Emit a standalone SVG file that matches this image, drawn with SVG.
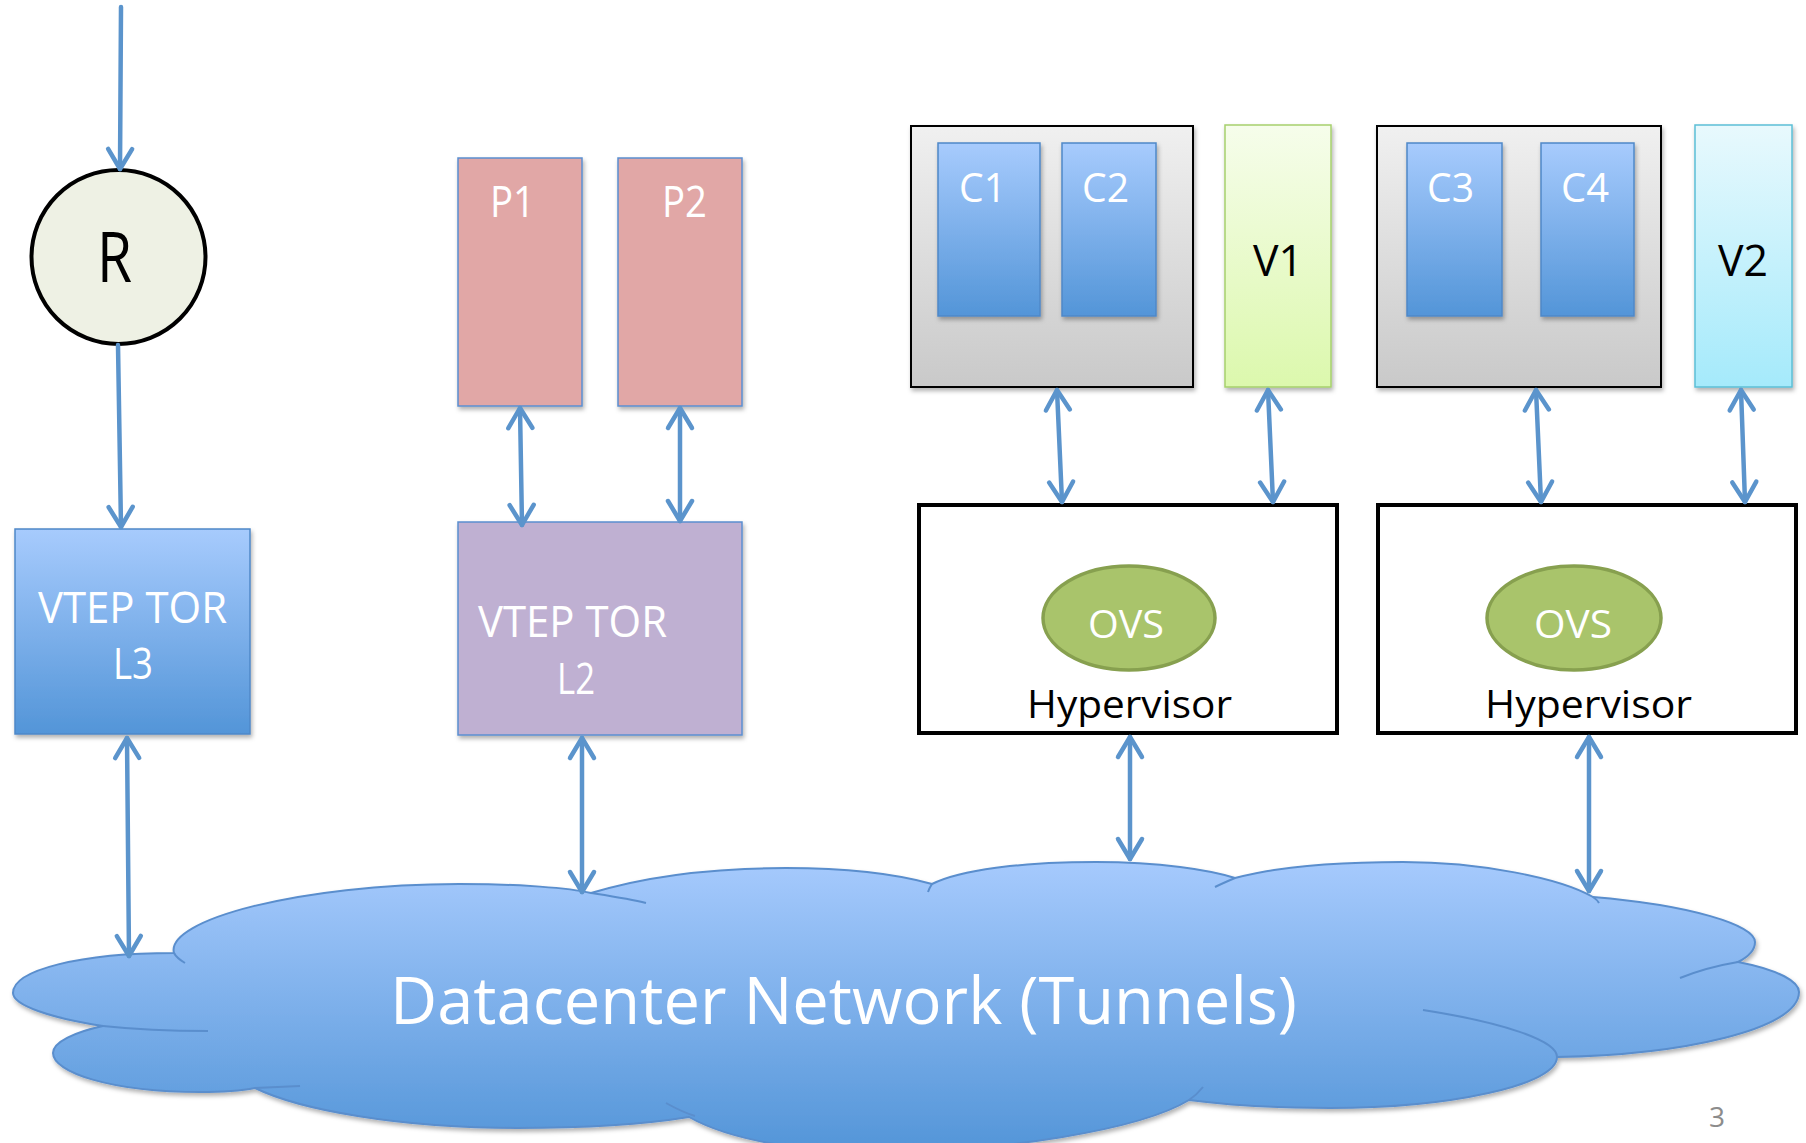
<svg xmlns="http://www.w3.org/2000/svg" width="1806" height="1143" viewBox="0 0 1806 1143">
<style>
text{font-family:"Open Sans","Noto Sans","Liberation Sans",sans-serif;}
.wt{fill:#ffffff;}
.bk{fill:#000000;}
.conn{stroke:#5b94cc;stroke-width:4.5;fill:none;stroke-linecap:round;}
.inner{stroke:#5a8ecd;stroke-width:2;fill:none;}
.bluebox{fill:url(#gBlue);stroke:#4f88c8;stroke-width:1.5;}
.pbox{fill:#e1a7a6;stroke:#5b8fd0;stroke-width:1.5;}
.graybox{fill:url(#gGray);stroke:#000;stroke-width:2;}
.hyp{fill:#ffffff;stroke:#000;stroke-width:4;}
.ovs{fill:#a9c46b;stroke:#87a04f;stroke-width:3.5;}
</style>
<defs>
<linearGradient id="gBlue" x1="0" y1="0" x2="0" y2="1">
<stop offset="0" stop-color="#a7cbfd"/><stop offset="1" stop-color="#5395d8"/>
</linearGradient>
<linearGradient id="gCloud" x1="0" y1="0" x2="0" y2="1">
<stop offset="0" stop-color="#a6cafd"/><stop offset="1" stop-color="#5395d8"/>
</linearGradient>
<linearGradient id="gGray" x1="0" y1="0" x2="0" y2="1">
<stop offset="0" stop-color="#f0f0f0"/><stop offset="1" stop-color="#c9c9c9"/>
</linearGradient>
<linearGradient id="gGreen" x1="0" y1="0" x2="0" y2="1">
<stop offset="0" stop-color="#f6fdeb"/><stop offset="1" stop-color="#dcf8ad"/>
</linearGradient>
<linearGradient id="gCyan" x1="0" y1="0" x2="0" y2="1">
<stop offset="0" stop-color="#e8f9fd"/><stop offset="1" stop-color="#a5eafb"/>
</linearGradient>
<filter id="sh" x="-10%" y="-10%" width="120%" height="130%">
<feDropShadow dx="1.5" dy="3" stdDeviation="2" flood-color="#000" flood-opacity="0.3"/>
</filter>
<marker id="ah" markerUnits="userSpaceOnUse" viewBox="-26 -16 30 32" refX="0" refY="0" markerWidth="30" markerHeight="32" orient="auto-start-reverse">
<path d="M-20,-12 L0,0 L-20,12" fill="none" stroke="#5b94cc" stroke-width="4.5" stroke-linecap="round" stroke-linejoin="round"/>
</marker>
</defs>

<g id="cloud">
<path filter="url(#sh)" fill="url(#gCloud)" stroke="#5a8ecd" stroke-width="2" d="M13,993 C13,970 80,953 174,953 C165,920 300,884 459,884 C520,884 570,888 591,893 C650,875 720,868 786,868 C850,868 900,875 932,884 C960,870 1020,862 1096,862 C1160,862 1210,870 1235,878 C1280,866 1340,862 1403,862 C1480,862 1560,878 1593,897 C1690,905 1755,925 1755,942 C1755,950 1748,957 1738,962 C1780,970 1799,982 1799,992 C1799,1030 1680,1055 1557,1057 C1557,1085 1450,1108 1330,1108 C1270,1108 1220,1104 1189,1100 C1140,1130 1000,1152 880,1152 C800,1152 730,1140 689,1117 C640,1125 580,1128 517,1128 C400,1128 300,1110 255,1088 C240,1091 220,1092 200,1092 C110,1092 53,1072 53,1053 C53,1042 75,1032 103,1026 C50,1018 13,1005 13,993 Z"/>
<path class="inner" d="M103,1026 C140,1030 180,1031 208,1031"/>
<path class="inner" d="M174,953 C176,957 180,960 185,963"/>
<path class="inner" d="M591,893 C610,896 630,899 646,903"/>
<path class="inner" d="M932,884 C930,887 929,889 928,892"/>
<path class="inner" d="M1235,878 C1228,881 1221,884 1215,887"/>
<path class="inner" d="M1593,897 C1596,899 1598,901 1599,903"/>
<path class="inner" d="M1680,978 C1700,970 1720,965 1738,962"/>
<path class="inner" d="M1423,1010 C1500,1022 1557,1040 1557,1057"/>
<path class="inner" d="M1203,1087 C1199,1092 1195,1096 1189,1100"/>
<path class="inner" d="M666,1103 C675,1108 685,1113 695,1116"/>
<path class="inner" d="M255,1088 L300,1086"/>
<text class="wt" x="390" y="1024" font-size="66" textLength="907" lengthAdjust="spacingAndGlyphs">Datacenter Network (Tunnels)</text>
</g>

<g id="router">
<circle cx="118.5" cy="257" r="87" fill="#eef1e4" stroke="#000" stroke-width="4"/>
<text class="bk" x="97" y="282" font-size="70" textLength="35" lengthAdjust="spacingAndGlyphs">R</text>
</g>

<g id="vtep-l3">
<rect class="bluebox" filter="url(#sh)" x="15" y="529" width="235" height="205"/>
<text class="wt" x="38" y="623" font-size="43" textLength="189" lengthAdjust="spacingAndGlyphs">VTEP TOR</text>
<text class="wt" x="113" y="679" font-size="43" textLength="40" lengthAdjust="spacingAndGlyphs">L3</text>
</g>

<g id="p1">
<rect class="pbox" filter="url(#sh)" x="458" y="158" width="124" height="248"/>
<text class="wt" x="490" y="217" font-size="44" textLength="45" lengthAdjust="spacingAndGlyphs">P1</text>
</g>
<g id="p2">
<rect class="pbox" filter="url(#sh)" x="618" y="158" width="124" height="248"/>
<text class="wt" x="662" y="217" font-size="44" textLength="45" lengthAdjust="spacingAndGlyphs">P2</text>
</g>

<g id="vtep-l2">
<rect filter="url(#sh)" x="458" y="522" width="284" height="213" fill="#bfb0d2" stroke="#5b8fd0" stroke-width="1.5"/>
<text class="wt" x="478" y="637" font-size="44" textLength="189" lengthAdjust="spacingAndGlyphs">VTEP TOR</text>
<text class="wt" x="557" y="694" font-size="44" textLength="38" lengthAdjust="spacingAndGlyphs">L2</text>
</g>

<g id="host1">
<rect class="graybox" filter="url(#sh)" x="911" y="126" width="282" height="261"/>
</g>
<g id="c1">
<rect class="bluebox" filter="url(#sh)" x="938" y="143" width="102" height="173"/>
<text class="wt" x="959" y="202" font-size="41" textLength="47" lengthAdjust="spacingAndGlyphs">C1</text>
</g>
<g id="c2">
<rect class="bluebox" filter="url(#sh)" x="1062" y="143" width="94" height="173"/>
<text class="wt" x="1082" y="202" font-size="41" textLength="47" lengthAdjust="spacingAndGlyphs">C2</text>
</g>
<g id="v1">
<rect filter="url(#sh)" x="1225" y="125" width="106" height="262" fill="url(#gGreen)" stroke="#a6d06d" stroke-width="1.5"/>
<text class="bk" x="1253" y="276" font-size="44" textLength="50" lengthAdjust="spacingAndGlyphs">V1</text>
</g>

<g id="host2">
<rect class="graybox" filter="url(#sh)" x="1377" y="126" width="284" height="261"/>
</g>
<g id="c3">
<rect class="bluebox" filter="url(#sh)" x="1407" y="143" width="95" height="173"/>
<text class="wt" x="1427" y="202" font-size="41" textLength="47" lengthAdjust="spacingAndGlyphs">C3</text>
</g>
<g id="c4">
<rect class="bluebox" filter="url(#sh)" x="1541" y="143" width="93" height="173"/>
<text class="wt" x="1561" y="202" font-size="41" textLength="48" lengthAdjust="spacingAndGlyphs">C4</text>
</g>
<g id="v2">
<rect filter="url(#sh)" x="1695" y="125" width="97" height="262" fill="url(#gCyan)" stroke="#5cbfd6" stroke-width="1.5"/>
<text class="bk" x="1718" y="276" font-size="44" textLength="50" lengthAdjust="spacingAndGlyphs">V2</text>
</g>

<g id="hypervisor1">
<rect class="hyp" x="919" y="505" width="418" height="228"/>
<ellipse class="ovs" cx="1129" cy="618" rx="86" ry="52"/>
<text class="wt" x="1088" y="638" font-size="38" textLength="76" lengthAdjust="spacingAndGlyphs">OVS</text>
<text class="bk" x="1027" y="718" font-size="38" textLength="205" lengthAdjust="spacingAndGlyphs">Hypervisor</text>
</g>
<g id="hypervisor2">
<rect class="hyp" x="1378" y="505" width="418" height="228"/>
<ellipse class="ovs" cx="1574" cy="618" rx="87" ry="52"/>
<text class="wt" x="1534" y="638" font-size="38" textLength="78" lengthAdjust="spacingAndGlyphs">OVS</text>
<text class="bk" x="1485" y="718" font-size="38" textLength="207" lengthAdjust="spacingAndGlyphs">Hypervisor</text>
</g>

<g id="connectors">
<line class="conn" x1="121" y1="7" x2="120" y2="169" marker-end="url(#ah)"/>
<line class="conn" x1="118" y1="345" x2="121" y2="527" marker-end="url(#ah)"/>
<line class="conn" x1="127" y1="738" x2="129" y2="956" marker-start="url(#ah)" marker-end="url(#ah)"/>
<line class="conn" x1="520" y1="408" x2="522" y2="525" marker-start="url(#ah)" marker-end="url(#ah)"/>
<line class="conn" x1="680" y1="408" x2="680" y2="521" marker-start="url(#ah)" marker-end="url(#ah)"/>
<line class="conn" x1="582" y1="738" x2="582" y2="892" marker-start="url(#ah)" marker-end="url(#ah)"/>
<line class="conn" x1="1057" y1="390" x2="1062" y2="502" marker-start="url(#ah)" marker-end="url(#ah)"/>
<line class="conn" x1="1268" y1="390" x2="1273" y2="502" marker-start="url(#ah)" marker-end="url(#ah)"/>
<line class="conn" x1="1536" y1="390" x2="1541" y2="502" marker-start="url(#ah)" marker-end="url(#ah)"/>
<line class="conn" x1="1741" y1="390" x2="1745" y2="502" marker-start="url(#ah)" marker-end="url(#ah)"/>
<line class="conn" x1="1130" y1="737" x2="1130" y2="859" marker-start="url(#ah)" marker-end="url(#ah)"/>
<line class="conn" x1="1589" y1="737" x2="1589" y2="891" marker-start="url(#ah)" marker-end="url(#ah)"/>
</g>

<text x="1709" y="1127" font-size="28" fill="#8c8c8c">3</text>
</svg>
